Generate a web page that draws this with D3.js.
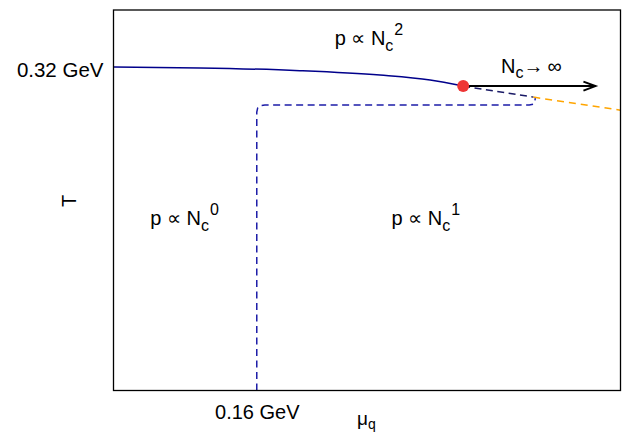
<!DOCTYPE html>
<html>
<head>
<meta charset="utf-8">
<script src="https://cdn.jsdelivr.net/npm/d3@7/dist/d3.min.js"></script>
<style>
  html, body { margin: 0; padding: 0; background: #fff; }
  svg text { font-family: "Liberation Sans", Arial, Helvetica, sans-serif; fill: #000; }
</style>
</head>
<body>
<svg id="chart" width="628" height="435"></svg>
<script>
// Phase diagram of QCD at large N_c (quark chemical potential vs temperature), in GeV.

// Deconfinement line ending at the critical point
const deconfMu = [0, 0.0962, 0.2081, 0.2976, 0.3536, 0.3905];
const deconfT  = [0.32, 0.3192, 0.3165, 0.3121, 0.3072, 0.3012];

// Critical point
const criticalMu = [0.3905];
const criticalT  = [0.3012];

// Continuation past the critical point (dashed, black then orange)
const crossMu = [0.3905, 0.4688];
const crossT  = [0.3012, 0.2903];
const tailMu  = [0.4688, 0.5662];
const tailT   = [0.2903, 0.2774];

// Quarkyonic boundary (blue dashed)
const quarkMu = [0.16, 0.16, 0.1611, 0.1645, 0.169, 0.4643, 0.4688, 0.4705, 0.4711];
const quarkT  = [0, 0.2754, 0.2799, 0.2819, 0.2824, 0.2824, 0.2833, 0.2863, 0.2892];

// Large-N_c arrow
const arrowMu = [0.3905, 0.5382];
const arrowT  = [0.3012, 0.3012];

// Tick values and labels
const xTickValues = [0.16];
const xTickLabels = ["0.16 GeV"];
const yTickValues = [0.32];
const yTickLabels = ["0.32 GeV"];

// Region labels: [mu, T, exponent]
const regionMu  = [0.247, 0.041, 0.3105];
const regionT   = [0.3415, 0.1635, 0.1635];
const regionExp = ["2", "0", "1"];

const svg = d3.select("#chart");
const plotL = 113.5, plotR = 620.5, plotT = 10, plotB = 390.5;

const x = d3.scaleLinear().domain([0, 0.5662]).range([plotL, plotR]);
const y = d3.scaleLinear().domain([0, 0.3765]).range([plotB, plotT]);

const zip = (a, b) => a.map((v, i) => [v, b[i]]);
const line = d3.line().x(d => x(d[0])).y(d => y(d[1]));

// Lines
svg.append("path").datum(zip(quarkMu, quarkT)).attr("d", line)
  .attr("fill", "none").attr("stroke", "#1c1ca8").attr("stroke-width", 1.5)
  .attr("stroke-dasharray", "7,4.5");

svg.append("path").datum(zip(tailMu, tailT)).attr("d", line)
  .attr("fill", "none").attr("stroke", "#ffa500").attr("stroke-width", 1.5)
  .attr("stroke-dasharray", "7,5");

svg.append("path").datum(zip(crossMu, crossT)).attr("d", line)
  .attr("fill", "none").attr("stroke", "#1a1a66").attr("stroke-width", 1.5)
  .attr("stroke-dasharray", "7,4.5");

svg.append("path").datum(zip(deconfMu, deconfT))
  .attr("d", line.curve(d3.curveMonotoneX))
  .attr("fill", "none").attr("stroke", "#00008b").attr("stroke-width", 1.5);

// Arrow
const a = zip(arrowMu, arrowT);
svg.append("line")
  .attr("x1", x(a[0][0])).attr("y1", y(a[0][1]))
  .attr("x2", x(a[1][0])).attr("y2", y(a[1][1]))
  .attr("stroke", "#000").attr("stroke-width", 2);
svg.append("path")
  .attr("d", `M${x(a[1][0]) - 12},${y(a[1][1]) - 4.5} L${x(a[1][0])},${y(a[1][1])} L${x(a[1][0]) - 12},${y(a[1][1]) + 4.5}`)
  .attr("fill", "none").attr("stroke", "#000").attr("stroke-width", 2);

// Critical point
svg.selectAll("circle.cp").data(zip(criticalMu, criticalT)).join("circle")
  .attr("class", "cp")
  .attr("cx", d => x(d[0])).attr("cy", d => y(d[1])).attr("r", 6)
  .attr("fill", "#ee3535");

// Frame
svg.append("rect")
  .attr("x", plotL).attr("y", plotT).attr("width", plotR - plotL).attr("height", plotB - plotT)
  .attr("fill", "none").attr("stroke", "#000").attr("stroke-width", 1.3);

// Axes (labels only)
const xAxis = d3.axisBottom(x).tickValues(xTickValues)
  .tickFormat((d, i) => xTickLabels[i]).tickSize(0).tickPadding(14);
const gx = svg.append("g").attr("transform", `translate(0,${plotB})`).call(xAxis);
gx.select(".domain").remove();
gx.selectAll("text").attr("font-size", 20).attr("font-family", null);

const yAxis = d3.axisLeft(y).tickValues(yTickValues)
  .tickFormat((d, i) => yTickLabels[i]).tickSize(0).tickPadding(10);
const gy = svg.append("g").attr("transform", `translate(${plotL},0)`).call(yAxis);
gy.select(".domain").remove();
gy.selectAll("text").attr("font-size", 20.5).attr("font-family", null).attr("dy", "0.45em");

// Axis titles
const xt = svg.append("text").attr("x", 357).attr("y", 425).attr("font-size", 19);
xt.append("tspan").text("μ");
xt.append("tspan").attr("dy", 4).attr("font-size", 14).text("q");

svg.append("text").attr("transform", "translate(76,201) rotate(-90)")
  .attr("text-anchor", "middle").attr("font-size", 20).text("T");

// Region labels
regionMu.forEach((m, i) => {
  const t = svg.append("text").attr("x", x(m)).attr("y", y(regionT[i])).attr("font-size", 20);
  t.append("tspan").text("p \u221D N");
  t.append("tspan").attr("dy", 6).attr("font-size", 16).text("c");
  t.append("tspan").attr("dy", -16).attr("dx", 1).attr("font-size", 16).text(regionExp[i]);
});

// Large-N_c label
const nl = svg.append("text").attr("x", 501).attr("y", 73).attr("font-size", 20);
nl.append("tspan").text("N");
nl.append("tspan").attr("dy", 5).attr("font-size", 16).text("c");
nl.append("tspan").attr("dy", -5).text("\u2192\u2009\u221E");
</script>
</body>
</html>
